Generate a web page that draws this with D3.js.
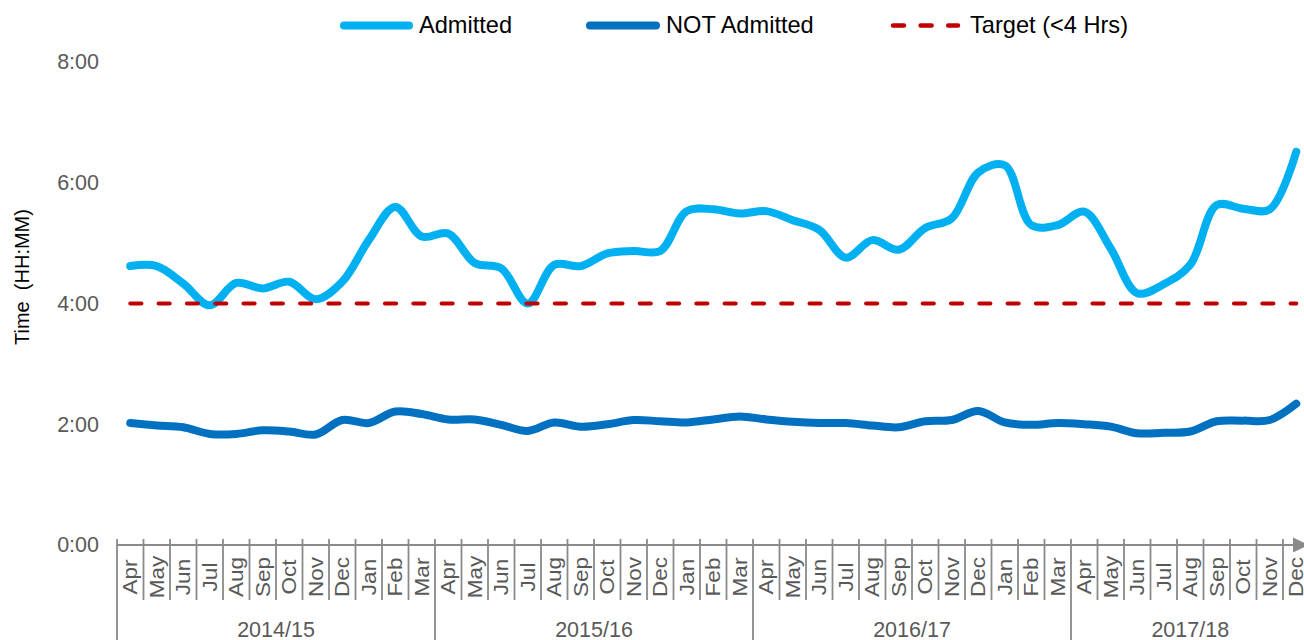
<!DOCTYPE html>
<html>
<head>
<meta charset="utf-8">
<script src="https://cdn.jsdelivr.net/npm/d3@7"></script>
<style>
  html, body { margin: 0; padding: 0; background: #fff; }
  svg { display: block; font-family: "Liberation Sans", Arial, sans-serif; }
</style>
</head>
<body>
<svg id="chart" width="1304" height="640"></svg>
<script>
// ---- Data ----
const months = ["Apr","May","Jun","Jul","Aug","Sep","Oct","Nov","Dec","Jan","Feb","Mar",
                "Apr","May","Jun","Jul","Aug","Sep","Oct","Nov","Dec","Jan","Feb","Mar",
                "Apr","May","Jun","Jul","Aug","Sep","Oct","Nov","Dec","Jan","Feb","Mar",
                "Apr","May","Jun","Jul","Aug","Sep","Oct","Nov","Dec"];
const fiscalYears = ["2014/15","2015/16","2016/17","2017/18"];
const fiscalYearMonths = [12, 12, 12, 9];
// hours (decimal)
const admitted = [4.62,4.62,4.33,3.97,4.34,4.25,4.36,4.07,4.36,5.05,5.60,5.11,
                  5.16,4.67,4.58,4.00,4.64,4.62,4.83,4.87,4.87,5.53,5.56,5.49,
                  5.53,5.38,5.22,4.76,5.05,4.89,5.25,5.41,6.17,6.29,5.30,5.30,
                  5.52,4.91,4.17,4.32,4.64,5.63,5.57,5.56,6.51];
const notAdmitted = [2.02,1.98,1.95,1.84,1.84,1.90,1.88,1.83,2.07,2.02,2.21,2.17,
                     2.08,2.08,1.99,1.89,2.03,1.96,2.00,2.07,2.05,2.03,2.08,2.13,
                     2.08,2.04,2.02,2.02,1.98,1.95,2.05,2.07,2.22,2.03,1.99,2.02,
                     2.00,1.96,1.85,1.86,1.88,2.05,2.06,2.07,2.34];
const targetHours = 4;
const yTicks = [0, 2, 4, 6, 8];
const legendItems = ["Admitted", "NOT Admitted", "Target (<4 Hrs)"];

// ---- Layout ----
const svg = d3.select("#chart");
const axisY = 545;
const step = 26.5;
const x0 = 117;
const idx = d3.range(months.length);
const x = d3.scaleBand().domain(idx).range([x0, x0 + step * months.length]).paddingInner(0).paddingOuter(0);
const y = d3.scaleLinear().domain([0, 8]).range([axisY, 62]);
const cx = i => x(i) + x.bandwidth() / 2;

const gray = "#595959";
const axisGray = "#8a8a8a";
const cAdm = "#00B0F0", cNot = "#0070C0", cTgt = "#C00000";

// ---- Y axis labels ----
const yAxis = d3.axisLeft(y).tickValues(yTicks).tickFormat(h => h + ":00").tickSize(0).tickPadding(0);
const gy = svg.append("g").attr("transform", "translate(99,0)").call(yAxis);
gy.select(".domain").remove();
gy.selectAll("text").attr("fill", gray).style("font-size", "21.5px").style("font-family", "'Liberation Sans', Arial, sans-serif");

svg.append("text")
  .attr("transform", "translate(29,277) rotate(-90)")
  .attr("text-anchor", "middle")
  .attr("fill", "#000")
  .style("font-size", "20px")
  .style("white-space", "pre")
  .attr("xml:space", "preserve")
  .text("Time  (HH:MM)");

// ---- X axis ----
const boundaries = d3.range(months.length + 1);
let cum = [0]; fiscalYearMonths.forEach(n => cum.push(cum[cum.length - 1] + n));
svg.append("g").selectAll("line").data(boundaries).join("line")
  .attr("x1", k => x0 + step * k).attr("x2", k => x0 + step * k)
  .attr("y1", 539)
  .attr("y2", k => cum.includes(k) ? 640 : 600)
  .attr("stroke", axisGray).attr("stroke-width", 1.8);

svg.append("line")
  .attr("x1", x0).attr("x2", 1296).attr("y1", axisY).attr("y2", axisY)
  .attr("stroke", axisGray).attr("stroke-width", 2.2);
svg.append("path")
  .attr("d", `M1293,537.5 L1309,545 L1293,552.5 Z`)
  .attr("fill", axisGray);

// month labels via axis
const xAxis = d3.axisBottom(x).tickFormat(i => months[i]).tickSize(0).tickPadding(0);
const gx = svg.append("g").call(xAxis);
gx.select(".domain").remove();
gx.selectAll(".tick").attr("transform", i => `translate(${cx(i)},577)`);
gx.selectAll("text")
  .attr("transform", "rotate(-90) scale(1.13,1)")
  .attr("y", 0).attr("x", 0).attr("dy", "0.35em")
  .attr("text-anchor", "middle")
  .attr("fill", gray)
  .style("font-size", "20px")
  .style("font-family", "'Liberation Sans', Arial, sans-serif");

// fiscal year labels
svg.append("g").selectAll("text").data(fiscalYears).join("text")
  .attr("x", (d, j) => x0 + step * (cum[j] + cum[j + 1]) / 2)
  .attr("y", 636.5)
  .attr("text-anchor", "middle")
  .attr("fill", gray)
  .style("font-size", "21.5px")
  .text(d => d);

// ---- Lines ----
const line = d3.line().x((d, i) => cx(i)).y(d => y(d)).curve(d3.curveCatmullRom.alpha(0.5));

svg.append("path").datum(admitted).attr("d", line)
  .attr("fill", "none").attr("stroke", cAdm).attr("stroke-width", 8)
  .attr("stroke-linecap", "round").attr("stroke-linejoin", "round");
svg.append("path").datum(notAdmitted).attr("d", line)
  .attr("fill", "none").attr("stroke", cNot).attr("stroke-width", 8)
  .attr("stroke-linecap", "round").attr("stroke-linejoin", "round");

svg.append("line")
  .attr("x1", cx(0) + 0.1).attr("x2", cx(months.length - 1))
  .attr("y1", y(targetHours)).attr("y2", y(targetHours))
  .attr("stroke", cTgt).attr("stroke-width", 4.2)
  .attr("stroke-dasharray", "11 17.3").attr("stroke-linecap", "round");

// ---- Legend ----
const legend = svg.append("g");
const legY = 25.5;
const legDefs = [
  { lx1: 344, lx2: 409, tx: 419, color: cAdm, dash: null, w: 8 },
  { lx1: 590, lx2: 656, tx: 666, color: cNot, dash: null, w: 8 },
  { lx1: 893, lx2: 958, tx: 970, color: cTgt, dash: "11 16.6", w: 4.5 }
];
legendItems.forEach((label, j) => {
  const d = legDefs[j];
  legend.append("line")
    .attr("x1", d.lx1).attr("x2", d.lx2).attr("y1", legY).attr("y2", legY)
    .attr("stroke", d.color).attr("stroke-width", d.w)
    .attr("stroke-linecap", "round")
    .attr("stroke-dasharray", d.dash);
  legend.append("text")
    .attr("x", d.tx).attr("y", 33)
    .attr("fill", "#000")
    .style("font-size", "23.6px")
    .text(label);
});
</script>
</body>
</html>
